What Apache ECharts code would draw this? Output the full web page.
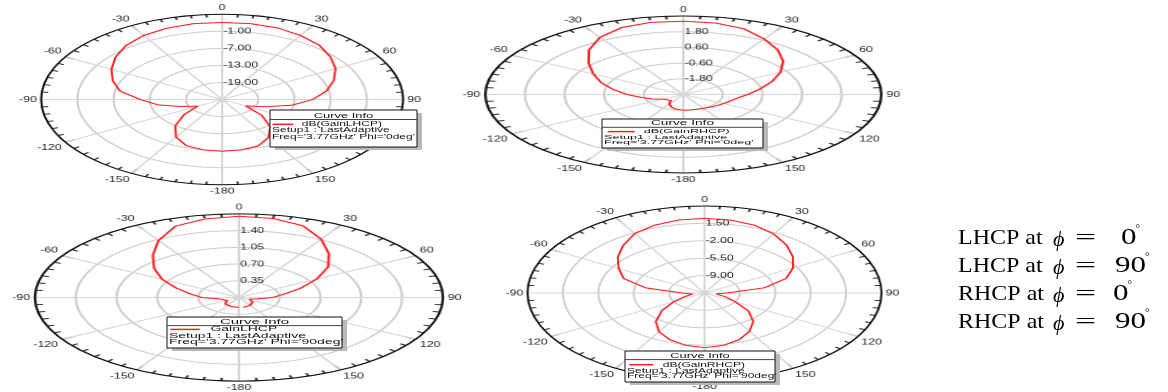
<!DOCTYPE html>
<html>
<head>
<meta charset="utf-8">
<script src="https://cdn.jsdelivr.net/npm/echarts@6/dist/echarts.min.js"></script>
<style>
  html, body { margin: 0; padding: 0; background: #fff; width: 1168px; height: 392px; overflow: hidden; position: relative; }
  .plot { position: absolute; transform-origin: 0 0; }
  #overlay { position: absolute; left: 0; top: 0; width: 1168px; height: 392px; }
</style>
</head>
<body>
<div id="p1" class="plot"></div>
<div id="p2" class="plot"></div>
<div id="p3" class="plot"></div>
<div id="p4" class="plot"></div>
<div id="overlay"></div>
<script>
// Elevation angle theta (deg) of every sample in the four cuts
const theta = [-180, -170, -160, -150, -140, -130, -120, -110, -100, -90, -80, -70, -60, -50, -40, -30, -20, -10,
  0, 10, 20, 30, 40, 50, 60, 70, 80, 90, 100, 110, 120, 130, 140, 150, 160, 170, 180];

// dB(GainLHCP), Phi = 0deg
const gainLHCP_phi0 = [-6.8, -7.0, -7.7, -9.7, -12.9, -16.8, -20.3, -17.8, -14.2, -11.4, -7.8, -5.7, -3.8, -1.9, -0.2, 1.0, 1.7, 2.1,
  2.1, 2.1, 1.8, 1.0, 0.0, -1.6, -3.3, -5.3, -7.4, -10.0, -13.3, -17.5, -20.5, -16.5, -12.6, -9.6, -7.6, -7.0, -6.8];

// dB(GainRHCP), Phi = 0deg
const gainRHCP_phi0 = [-1.8, -1.85, -1.97, -2.15, -2.4, -2.5, -2.3, -2.0, -1.7, -1.3, -0.85, -0.35, 0.15, 0.75, 1.45, 2.05, 2.45, 2.6,
  2.6, 2.55, 2.35, 1.9, 1.45, 0.95, 0.4, -0.15, -0.65, -1.05, -1.35, -1.5, -1.6, -1.68, -1.74, -1.78, -1.8, -1.8, -1.8];

// GainLHCP (linear), Phi = 90deg
const gainLHCP_phi90 = [0.21, 0.21, 0.2, 0.19, 0.18, 0.15, 0.12, 0.10, 0.17, 0.32, 0.42, 0.57, 0.76, 0.95, 1.15, 1.38, 1.59, 1.67,
  1.70, 1.68, 1.60, 1.41, 1.20, 1.0, 0.77, 0.56, 0.39, 0.29, 0.16, 0.10, 0.12, 0.15, 0.18, 0.19, 0.2, 0.21, 0.21];

// dB(GainRHCP), Phi = 90deg
const gainRHCP_phi90 = [-1.5, -1.8, -2.5, -3.5, -5.0, -7.0, -9.0, -10.5, -11.3, -10.3, -6.6, -4.0, -2.7, -1.3, 0.0, 1.3, 2.0, 2.4,
  2.5, 2.4, 2.0, 1.2, 0.1, -1.1, -2.4, -3.9, -6.5, -10.3, -11.3, -10.3, -9.0, -6.8, -5.0, -3.6, -2.5, -1.8, -1.5];

// Radial scale of each plot: value at centre, value at outer ring, ring step
const radialLHCP_phi0 = [-25, 5, 6];
const radialRHCP_phi0 = [-3, 3, 1.2];
const radialLHCP_phi90 = [0, 1.75, 0.35];
const radialRHCP_phi90 = [-12.5, 5, 3.5];

// Angle axis: one turn, a labelled spoke every 30 deg, theta shown in -180..150
const angleStep = 30;

// Legend texts of the Curve Info boxes
const curveNames = ['dB(GainLHCP)', 'dB(GainRHCP)', 'GainLHCP', 'dB(GainRHCP)'];
const curvePhi = ['0deg', '0deg', '90deg', '90deg'];

// Caption lines on the right
const captionPol = ['LHCP', 'LHCP', 'RHCP', 'RHCP'];
const captionPhi = ['0', '90', '0', '90'];

const SANS = "'Liberation Sans', Arial, sans-serif";
const SERIF = "'Liberation Serif', 'Times New Roman', serif";
const TEXT_WIDEN = 1.45;   // horizontal widening of the axis texts

// Each polar plot is drawn round, then widened into an ellipse with a CSS scaleX
const plots = [
  { id: 'p1', cx: 221.5, cy: 99.2, rx: 181, ry: 85.3, values: gainLHCP_phi0, radial: radialLHCP_phi0 },
  { id: 'p2', cx: 683, cy: 94, rx: 198, ry: 78.5, values: gainRHCP_phi0, radial: radialRHCP_phi0 },
  { id: 'p3', cx: 239.2, cy: 297.3, rx: 204, ry: 83.6, values: gainLHCP_phi90, radial: radialLHCP_phi90 },
  { id: 'p4', cx: 704.3, cy: 293, rx: 177, ry: 87, values: gainRHCP_phi90, radial: radialRHCP_phi90 }
];

// Compress every text element so it is not widened along with the ellipse
function narrowTexts(chart, s) {
  const zr = chart.getZr();
  const visit = (el) => {
    if (el.type === 'text') {
      el.originX = (el.style && el.style.x) || 0;
      el.originY = (el.style && el.style.y) || 0;
      el.scaleX = s;
      el.markRedraw();
    }
    if (el.isGroup) el.eachChild(visit);
  };
  zr.storage.getRoots().forEach(visit);
  zr.storage.getDisplayList(true).forEach((d) => d.markRedraw && d.markRedraw());
  zr.refreshImmediately();
}

// theta in -180..180 -> polar angle 0..360, measured clockwise from the top
const toTurn = (t) => (t < 0 ? t + 360 : t);

function polarOption(p) {
  const lo = p.radial[0], hi = p.radial[1], step = p.radial[2];
  return {
    animation: false,
    polar: { center: ['50%', '50%'], radius: p.ry },
    angleAxis: {
      type: 'value', min: 0, max: 360, interval: angleStep,
      startAngle: 90, clockwise: true, silent: true,
      axisLine: { lineStyle: { color: '#111', width: 1 } },
      axisTick: { show: true, inside: true, length: 5, lineStyle: { color: '#222', width: 1 } },
      minorTick: { show: true, splitNumber: 6, length: 3, lineStyle: { color: '#333', width: 1 } },
      splitLine: { show: true, lineStyle: { color: '#d6d6d6', width: 1 } },
      axisLabel: {
        margin: 2, fontSize: 8.5, color: '#1e1e1e', fontFamily: SANS,
        formatter: (v) => String(v >= 180 ? v - 360 : v)
      }
    },
    radiusAxis: {
      type: 'value', min: 0, max: hi - lo, interval: step, silent: true,
      axisLine: { show: false }, axisTick: { show: false },
      splitLine: { show: true, lineStyle: { color: '#cdcdcd', width: 1 } },
      axisLabel: {
        showMinLabel: false, showMaxLabel: false, margin: -0.5,
        align: 'left', verticalAlign: 'middle',
        fontSize: 8.5, color: '#1e1e1e', fontFamily: SANS,
        formatter: (v) => (v + lo).toFixed(2)
      }
    },
    series: [{
      type: 'line', coordinateSystem: 'polar', silent: true,
      showSymbol: false, smooth: false,
      lineStyle: { color: '#ff1f1f', width: 1 },
      data: theta.map((t, i) => [p.values[i] - lo, toTurn(t)])
    }]
  };
}

const padX = 14, padY = 22;
plots.forEach((p) => {
  const k = p.rx / p.ry;
  const W = 2 * p.ry + 2 * padX, H = 2 * p.ry + 2 * padY;
  const div = document.getElementById(p.id);
  div.style.width = W + 'px';
  div.style.height = H + 'px';
  div.style.left = (p.cx - k * W / 2) + 'px';
  div.style.top = (p.cy - H / 2) + 'px';
  div.style.transform = 'scaleX(' + k + ')';
  const chart = echarts.init(div, null, { renderer: 'canvas', devicePixelRatio: 2 });
  chart.setOption(polarOption(p));
  narrowTexts(chart, TEXT_WIDEN / k);
});

// Curve Info boxes: frame, text size and row offsets
const boxes = [
  { x: 270, y: 110, w: 147, h: 37, fs: 7, sx: 1.72, rows: [5.7, 9.5, 14.3, 20.4, 26.6], line: [2.7, 23.3, 31.7] },
  { x: 602, y: 119, w: 161, h: 29, fs: 6, sx: 2.1, rows: [4.7, 8.3, 12.6, 18.0, 23.6], line: [5.7, 32.7, 41.7] },
  { x: 167, y: 317, w: 175, h: 31, fs: 7, sx: 2.0, rows: [5.0, 8.6, 12.4, 19.0, 25.2], line: [3.4, 32.7, 43.4] },
  { x: 625, y: 351, w: 150, h: 31, fs: 7, sx: 1.72, rows: [5.0, 8.6, 13.7, 19.7, 25.4], line: [4.3, 28.3, 37.7] }
];

function boxText(text, x, y, align, size, sx) {
  return {
    type: 'text', x: x, y: y, scaleX: sx, silent: true,
    style: { text: text, fontSize: size, fontFamily: SANS, fill: '#111', align: align, verticalAlign: 'middle' }
  };
}

const elements = [];
boxes.forEach((b, i) => {
  const r = b.rows;
  elements.push({ type: 'rect', silent: true, shape: { x: b.x + 5, y: b.y + 3, width: b.w, height: b.h }, style: { fill: '#b9b9b9' } });
  elements.push({ type: 'rect', silent: true, shape: { x: b.x, y: b.y, width: b.w, height: b.h }, style: { fill: '#fff', stroke: '#111', lineWidth: 1 } });
  elements.push(boxText('Curve Info', b.x + b.w / 2, b.y + r[0], 'center', b.fs + 0.5, b.sx));
  elements.push({ type: 'line', silent: true, shape: { x1: b.x, y1: b.y + r[1], x2: b.x + b.w, y2: b.y + r[1] }, style: { stroke: '#444', lineWidth: 1 } });
  elements.push({ type: 'line', silent: true, shape: { x1: b.x + b.line[0], y1: b.y + r[2], x2: b.x + b.line[1], y2: b.y + r[2] }, style: { stroke: '#ff1f1f', lineWidth: 1.5 } });
  elements.push(boxText(curveNames[i], b.x + b.line[2], b.y + r[2], 'left', b.fs, b.sx));
  elements.push(boxText('Setup1 : LastAdaptive', b.x + 2, b.y + r[3], 'left', b.fs, b.sx));
  elements.push(boxText("Freq='3.77GHz' Phi='" + curvePhi[i] + "'", b.x + 2, b.y + r[4], 'left', b.fs, b.sx));
});

const captionY = [238, 266, 294, 322];
const numX = [1121, 1115, 1113, 1115];
captionPol.forEach((pol, i) => {
  const y = captionY[i];
  const serif = (text, x, yy, size, sx, italic) => ({
    type: 'text', x: x, y: yy, scaleX: sx, silent: true,
    style: { text: text, fontSize: size, fontFamily: SERIF, fontStyle: italic ? 'italic' : 'normal', fill: '#000', align: 'left', verticalAlign: 'middle' }
  });
  elements.push(serif(pol + ' at', 958, y, 22, 1.09, false));
  elements.push(serif('\u03d5', 1053, y + 2, 21, 1.05, true));
  elements.push(serif('=', 1075, y, 22, 1.7, false));
  elements.push(serif(captionPhi[i], numX[i], y, 23, 1.35, false));
  const numW = captionPhi[i].length * 11.5 * 1.35;
  elements.push(serif('\u00b0', numX[i] + numW - 1, y - 9, 11, 1.0, false));
});

const overlay = echarts.init(document.getElementById('overlay'), null, { renderer: 'canvas' });
overlay.setOption({ animation: false, graphic: { elements: elements } });
</script>
</body>
</html>
